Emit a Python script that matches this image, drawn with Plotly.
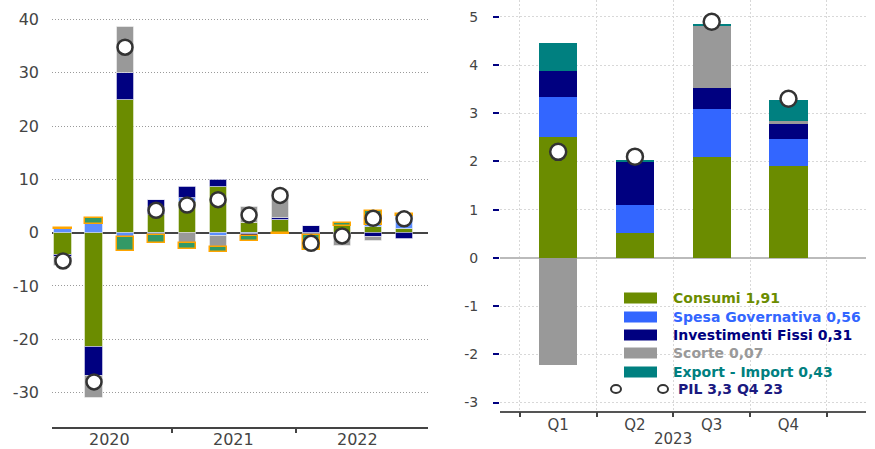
import plotly.graph_objects as go

# ---------------- data ----------------
# Left panel: 2020Q1 .. 2022Q4 contributions to GDP growth
years_left = ["2020", "2021", "2022"]
quarters_left = list(range(12))
consumi_l = [-4.1, -21.5, 24.9, 3.4, 5.8, 8.5, 1.75, 2.4, 0.0, 1.3, 1.0, 0.6]
spesa_l = [0.6, 1.6, -0.9, -0.4, 0.8, -0.6, -0.3, 0.0, -0.4, 0.0, 0.45, 2.45]
invest_l = [-0.5, -5.3, 5.1, 2.8, 1.9, 1.35, -0.3, 0.3, 1.2, 0.0, -0.75, -1.1]
scorte_l = [-1.7, -4.2, 8.6, 0.0, -2.0, -2.0, 3.15, 5.2, 0.0, -2.5, -0.8, 0.0]
export_l = [0.3, 1.1, -2.6, -1.5, -1.1, -1.0, -1.0, -0.3, -2.9, 0.6, 2.65, 0.4]
pil_l = [-5.3, -28.0, 34.8, 4.2, 5.2, 6.2, 3.3, 7.0, -2.0, -0.6, 2.7, 2.6]

# Right panel: 2023
year_right = "2023"
quarters_right = ["Q1", "Q2", "Q3", "Q4"]
consumi_r = [2.51, 0.52, 2.10, 1.91]
spesa_r = [0.83, 0.58, 0.99, 0.56]
invest_r = [0.54, 0.89, 0.44, 0.31]
scorte_r = [-2.22, 0.0, 1.29, 0.07]
export_r = [0.58, 0.04, 0.03, 0.43]
pil_r = [2.2, 2.1, 4.9, 3.3]

legend_labels = ["Consumi 1,91", "Spesa Governativa 0,56", "Investimenti Fissi 0,31",
                 "Scorte 0,07", "Export - Import 0,43"]
legend_pil = "PIL 3,3 Q4 23"

left_yticks = [40, 30, 20, 10, 0, -10, -20, -30]
left_yticktext = ["40", "30", "20", "10", "0", "-10", "-20", "-30"]
right_yticks = [5, 4, 3, 2, 1, 0, -1, -2, -3]
right_yticktext = ["5", "4", "3", "2", "1", "0", "-1", "-2", "-3"]

# ---------------- styles ----------------
GREEN = "#6B8C00"
BLUE_L = "#5B8DFF"
BLUE_R = "#3366FF"
NAVY = "#000080"
GRAY = "#999999"
SEA = "#339966"
ORANGE = "#FFA500"
TEAL = "#008080"
W, H = 875, 449
FONT = "DejaVu Sans"

fig = go.Figure()

edge = dict(color="rgba(255,255,255,0.45)", width=1)
left_series = [
    (consumi_l, GREEN, edge),
    (spesa_l, BLUE_L, edge),
    (invest_l, NAVY, edge),
    (scorte_l, GRAY, edge),
    (export_l, SEA, dict(color=ORANGE, width=1.5)),
]
for vals, col, line in left_series:
    fig.add_trace(go.Bar(x=quarters_left, y=vals, width=0.55, xaxis="x", yaxis="y",
                         marker=dict(color=col, line=line), showlegend=False))
fig.add_trace(go.Scatter(x=quarters_left, y=pil_l, mode="markers", xaxis="x", yaxis="y",
                         marker=dict(symbol="circle", size=15, color="white",
                                     line=dict(color="#333333", width=2.5)),
                         showlegend=False))

xr = list(range(4))
right_series = [
    (consumi_r, GREEN),
    (spesa_r, BLUE_R),
    (invest_r, NAVY),
    (scorte_r, GRAY),
    (export_r, TEAL),
]
for vals, col in right_series:
    fig.add_trace(go.Bar(x=xr, y=vals, width=0.5, xaxis="x2", yaxis="y2",
                         marker=dict(color=col, line=dict(width=0)), showlegend=False))
fig.add_trace(go.Scatter(x=xr, y=pil_r, mode="markers", xaxis="x2", yaxis="y2",
                         marker=dict(symbol="circle", size=16, color="white",
                                     line=dict(color="#333333", width=2.5)),
                         showlegend=False))

def py(ypix):
    return (H - ypix) / H

def px(xpix):
    return xpix / W

fig.update_layout(
    width=W, height=H, margin=dict(l=0, r=0, t=0, b=0),
    paper_bgcolor="white", plot_bgcolor="white",
    barmode="relative", bargap=0,
    font=dict(family=FONT, color="#444444"),
    xaxis=dict(domain=[px(52), px(428)], range=[-0.355, 11.77], anchor="y",
               tickmode="array", tickvals=[3.5, 7.5], ticktext=["", ""],
               ticks="outside", ticklen=5, tickcolor="#444444", tickwidth=1.5,
               showline=True, linecolor="#444444", linewidth=1.5,
               showgrid=False, zeroline=False),
    yaxis=dict(domain=[py(426.7), py(10)], range=[-36.4, 41.78], anchor="x",
               tickmode="array", tickvals=left_yticks, ticktext=left_yticktext,
               tickfont=dict(size=16, color="#444444"), ticklabelstandoff=12,
               showgrid=True, gridcolor="#9a9a9a", griddash="1px,2px", gridwidth=1,
               zeroline=True, zerolinecolor="#444444", zerolinewidth=1.5,
               showline=False, ticks=""),
    xaxis2=dict(domain=[px(500), px(866)], range=[-0.758, 4.01], anchor="y2",
                tickmode="array", tickvals=xr, ticktext=quarters_right,
                tickfont=dict(size=15, color="#444444"), ticks="",
                showgrid=False, zeroline=False,
                showline=True, linecolor="#555555", linewidth=1.5,
                minor=dict(tickmode="array", tickvals=[-0.5, 0.5, 1.5, 2.5, 3.5],
                           ticks="outside", ticklen=5, tickcolor="#444444", tickwidth=1.5,
                           showgrid=True, gridcolor="#d8d8d8", griddash="2px,2px", gridwidth=1)),
    yaxis2=dict(domain=[py(410.7), 1.0], range=[-3.17, 5.35], anchor="x2",
                tickmode="array", tickvals=right_yticks, ticktext=right_yticktext,
                tickfont=dict(size=14, color="#444444"),
                ticks="outside", ticklen=6, tickcolor=NAVY, tickwidth=2,
                ticklabelstandoff=12,
                showgrid=True, gridcolor="#d8d8d8", griddash="2px,2px", gridwidth=1,
                zeroline=True, zerolinecolor="#bbbbbb", zerolinewidth=1.5,
                showline=False),
)

annotations = []
for i, yl in enumerate(years_left):
    annotations.append(dict(x=1.5 + 4 * i, xref="x", y=py(439), yref="paper",
                            text=yl, showarrow=False, xanchor="center", yanchor="middle",
                            font=dict(size=16, color="#444444", family=FONT)))
annotations.append(dict(x=1.5, xref="x2", y=py(439), yref="paper", text=year_right,
                        showarrow=False, xanchor="center", yanchor="middle",
                        font=dict(size=15, color="#444444", family=FONT)))

# custom legend
shapes = []
row_y = [298, 317, 335, 353, 372]
leg_colors = [GREEN, BLUE_R, NAVY, GRAY, TEAL]
text_colors = [GREEN, BLUE_R, NAVY, GRAY, TEAL]
for lab, yy, c, tc in zip(legend_labels, row_y, leg_colors, text_colors):
    shapes.append(dict(type="rect", xref="paper", yref="paper",
                       x0=px(624), x1=px(657), y0=py(yy + 5.5), y1=py(yy - 5.5),
                       fillcolor=c, line=dict(width=0)))
    annotations.append(dict(x=px(671), xref="paper", y=py(yy), yref="paper",
                            text="<b>" + lab + "</b>", showarrow=False,
                            xanchor="left", yanchor="middle",
                            font=dict(size=14, color=tc, family="DejaVu Sans")))
for cx in [616, 663]:
    shapes.append(dict(type="circle", xref="paper", yref="paper",
                       x0=px(cx - 5), x1=px(cx + 5), y0=py(389 + 4), y1=py(389 - 4),
                       fillcolor="white", line=dict(color="#333333", width=2)))
annotations.append(dict(x=px(676), xref="paper", y=py(389), yref="paper",
                        text="<b>" + legend_pil + "</b>", showarrow=False,
                        xanchor="left", yanchor="middle",
                        font=dict(size=14, color="#1A1A80", family="DejaVu Sans")))

fig.update_layout(annotations=annotations, shapes=shapes)
fig.write_html("out.html")
